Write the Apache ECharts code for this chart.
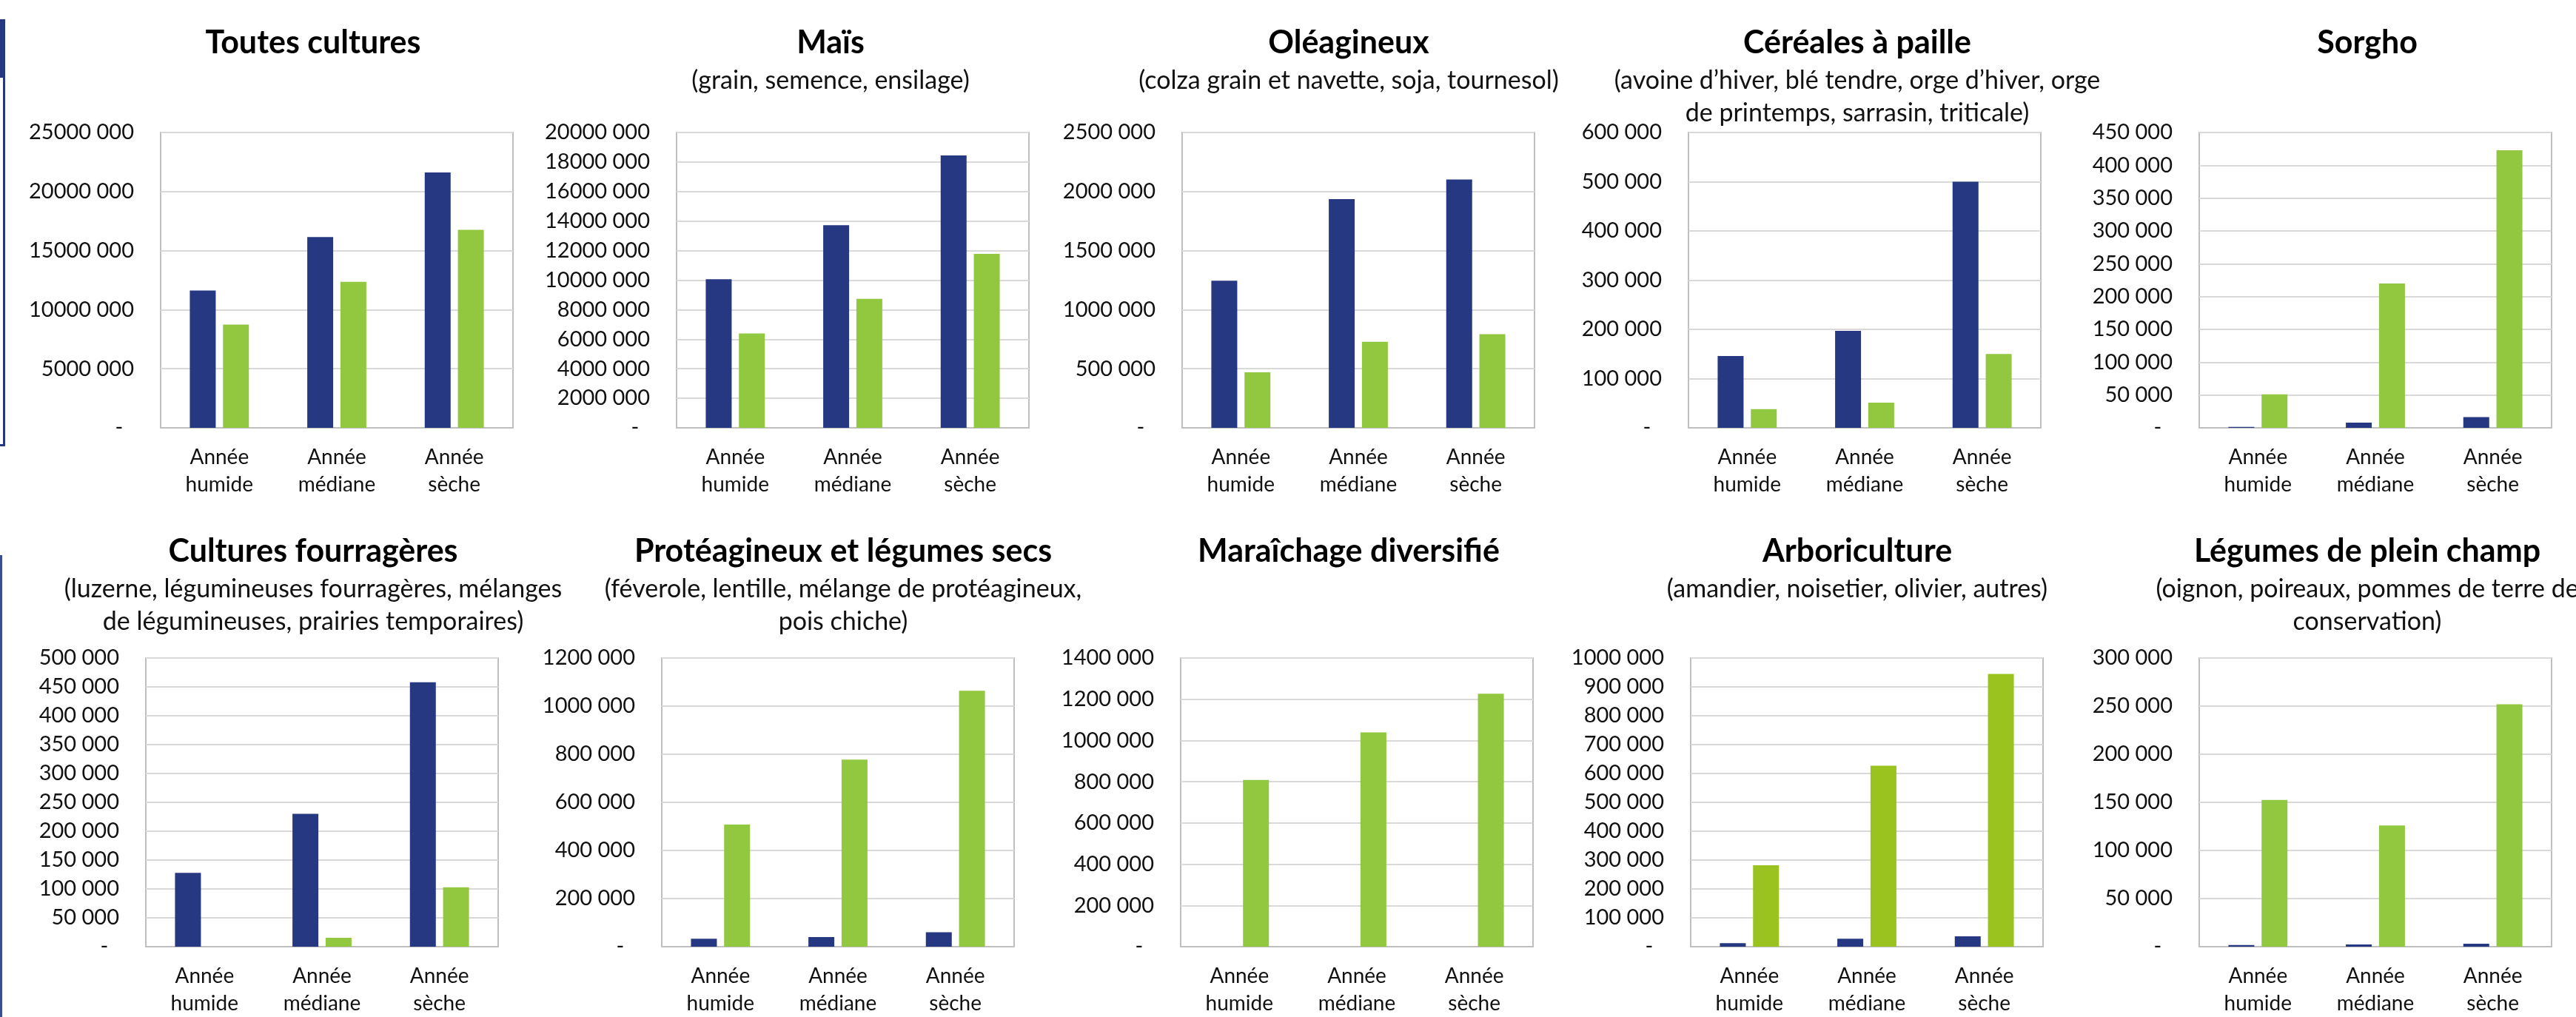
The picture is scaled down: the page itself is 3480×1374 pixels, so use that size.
<!DOCTYPE html>
<html>
<head>
	<meta charset="utf-8">
	<title>Besoins en eau par culture</title>
	<script src="https://cdn.jsdelivr.net/npm/echarts@6/dist/echarts.min.js"></script>
	<style>
		html, body { margin: 0; padding: 0; background: #fff; }
		#chart { width: 3480px; height: 1374px; }
	</style>
</head>
<body>
	<div id="chart"></div>
	<script>
		// categories (x axis)
		const categories = ['Année\nhumide', 'Année\nmédiane', 'Année\nsèche'];

		// panel titles, row by row
		const titres = [
			'Toutes cultures', 'Maïs', 'Oléagineux', 'Céréales à paille', 'Sorgho',
			'Cultures fourragères', 'Protéagineux et légumes secs', 'Maraîchage diversifié', 'Arboriculture', 'Légumes de plein champ'
		];
		const sousTitres = [
			'',
			'(grain, semence, ensilage)',
			'(colza grain et navette, soja, tournesol)',
			'(avoine d’hiver, blé tendre, orge d’hiver, orge\nde printemps, sarrasin, triticale)',
			'',
			'(luzerne, légumineuses fourragères, mélanges\nde légumineuses, prairies temporaires)',
			'(féverole, lentille, mélange de protéagineux,\npois chiche)',
			'',
			'(amandier, noisetier, olivier, autres)',
			'(oignon, poireaux, pommes de terre de\nconservation)'
		];

		// y axis scale per panel
		const axeMax = [25000000, 20000000, 2500000, 600000, 450000, 500000, 1200000, 1400000, 1000000, 300000];
		const axePas = [5000000, 2000000, 500000, 100000, 50000, 50000, 200000, 200000, 100000, 50000];

		// blue series (first bar) per panel
		const valeursBleues = [
			[11620000, 16150000, 21620000],
			[10060000, 13720000, 18450000],
			[1246000, 1936000, 2102000],
			[146000, 197000, 500000],
			[1500, 8000, 16400],
			[128000, 230000, 458000],
			[33000, 40000, 60000],
			[0, 0, 0],
			[12000, 27500, 36000],
			[1700, 2300, 3000]
		];
		// green series (second bar) per panel
		const valeursVertes = [
			[8740000, 12360000, 16760000],
			[6390000, 8730000, 11780000],
			[470000, 729000, 793000],
			[38000, 51000, 150000],
			[51000, 220000, 423000],
			[0, 15500, 103000],
			[508000, 778000, 1064000],
			[809000, 1039000, 1227000],
			[282000, 627000, 945000],
			[152500, 126000, 252000]
		];

		const BLEU = '#273882';
		const VERT = '#92C740';
		const VERT_ARBO = '#9AC31F';
		const FONT = 'Lato';

		// layout
		const gridLeft = [217, 914, 1597, 2281, 2971, 197, 894, 1595, 2284, 2971];
		const gridWidth = 476;
		const rowTop = [179, 889];
		const rowHeight = [399, 396];
		const titleX = [418, 1117, 1817, 2504, 3193, 418, 1134, 1817, 2504, 3193];
		const titleTop = [28, 715];

		function formatTick(v) {
			if (v === 0) return '-  ';
			return Math.floor(v / 1000) + ' 000';
		}

		const grid = [], xAxis = [], yAxis = [], series = [], title = [];
		for (let i = 0; i < 10; i++) {
			const row = i < 5 ? 0 : 1;
			grid.push({
				left: gridLeft[i], top: rowTop[row], width: gridWidth, height: rowHeight[row],
				show: true, borderColor: '#BFBFBF', borderWidth: 2, backgroundColor: '#fff'
			});
			xAxis.push({
				type: 'category', gridIndex: i, data: categories,
				axisLine: {lineStyle: {color: '#BFBFBF', width: 2}},
				axisTick: {show: false},
				axisLabel: {fontFamily: FONT, fontSize: 28, color: '#111', lineHeight: 37, margin: 21, interval: 0}
			});
			yAxis.push({
				type: 'value', gridIndex: i, min: 0, max: axeMax[i], interval: axePas[i],
				axisLine: {show: false}, axisTick: {show: false},
				splitLine: {lineStyle: {color: '#D9D9D9', width: 2}},
				axisLabel: {fontFamily: FONT, fontSize: 29, color: '#111', margin: 36, formatter: formatTick}
			});
			series.push({
				type: 'bar', xAxisIndex: i, yAxisIndex: i, data: valeursBleues[i],
				barWidth: 35, barGap: '28%', itemStyle: {color: BLEU}, silent: true
			});
			series.push({
				type: 'bar', xAxisIndex: i, yAxisIndex: i, data: valeursVertes[i],
				barWidth: 35, barGap: '28%', itemStyle: {color: i === 8 ? VERT_ARBO : VERT}, silent: true
			});
			title.push({
				text: titres[i], subtext: sousTitres[i],
				left: titleX[i], top: titleTop[row], textAlign: 'center', itemGap: 4,
				textStyle: {fontFamily: FONT, fontWeight: 'bold', fontSize: 43, color: '#000', lineHeight: 50},
				subtextStyle: {fontFamily: FONT, fontSize: 34, color: '#111', lineHeight: 44, align: 'center'}
			});
		}

		// cropped frame edges at the left border
		const graphic = [
			{type: 'rect', shape: {x: 0, y: 26, width: 7, height: 79}, style: {fill: BLEU}},
			{type: 'rect', shape: {x: 4, y: 26, width: 3, height: 577}, style: {fill: BLEU}},
			{type: 'rect', shape: {x: 0, y: 600, width: 7, height: 3}, style: {fill: BLEU}},
			{type: 'rect', shape: {x: 0, y: 750, width: 3, height: 624}, style: {fill: '#3A4C94'}}
		];

		const chart = echarts.init(document.getElementById('chart'), null, {renderer: 'canvas'});
		chart.setOption({
			backgroundColor: '#fff',
			animation: false,
			title: title,
			grid: grid,
			xAxis: xAxis,
			yAxis: yAxis,
			series: series,
			graphic: graphic
		});
	</script>
</body>
</html>
